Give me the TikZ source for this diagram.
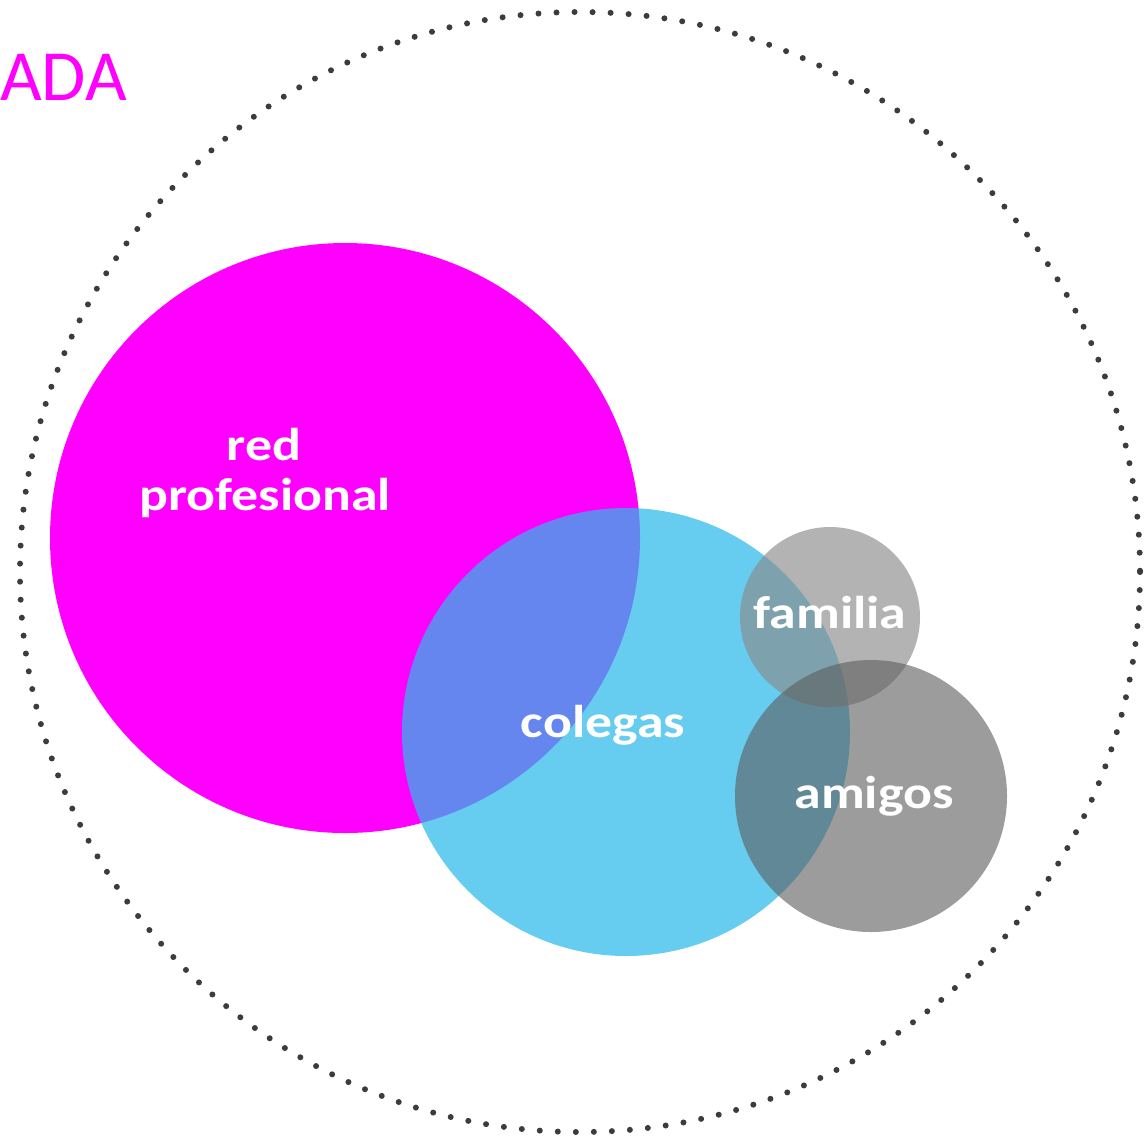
\documentclass[tikz,border=0pt]{standalone}
\usepackage{fontspec}
\setmainfont{Carlito}
\definecolor{mag}{RGB}{255,0,255}
\definecolor{cy}{RGB}{45,185,234}
\definecolor{famg}{RGB}{138,138,138}
\definecolor{amig}{RGB}{95,95,95}
\definecolor{dotc}{RGB}{60,60,60}
\tikzset{
  lbl/.style={text=white, font=\bfseries\fontsize{46}{50}\selectfont, inner sep=0pt, anchor=base, align=center},
  blob/.style={circle, draw=none, inner sep=0pt, minimum size=#1},
}
\newcommand{\wide}[1]{\scalebox{1.17}[1]{#1}}
\begin{document}
\begin{tikzpicture}[x=1pt,y=-1pt]
\useasboundingbox (0,0) rectangle (1145,1136);
% outer dotted circle
\node[circle, minimum size=1120pt, inner sep=0pt, draw=none] (outer) at (580,572) {};
\draw[dotc, line width=6pt, line cap=round, dash pattern=on 0pt off 18.04pt] (580,572) circle[radius=560];
% circles
\node[blob=590pt, fill=mag] (red) at (345,538) {};
\node[blob=448pt, fill=cy, fill opacity=0.73] (col) at (626,732) {};
\node[blob=180pt, fill=famg, fill opacity=0.65] (fam) at (830,617) {};
\node[blob=272pt, fill=amig, fill opacity=0.62] (ami) at (871,796) {};
% labels
\node[lbl] (t1) at (264,460) {\wide{red}};
\node[lbl] (t2) at (265,510) {\wide{profesional}};
\node[lbl] (t3) at (603,737) {\wide{colegas}};
\node[lbl] (t4) at (830,628) {\wide{familia}};
\node[lbl] (t5) at (874,808) {\wide{amigos}};
\node[anchor=base west, inner sep=0pt, text=mag, font=\fontsize{72}{80}\selectfont] (ada) at (0,100) {ADA};
\end{tikzpicture}
\end{document}
